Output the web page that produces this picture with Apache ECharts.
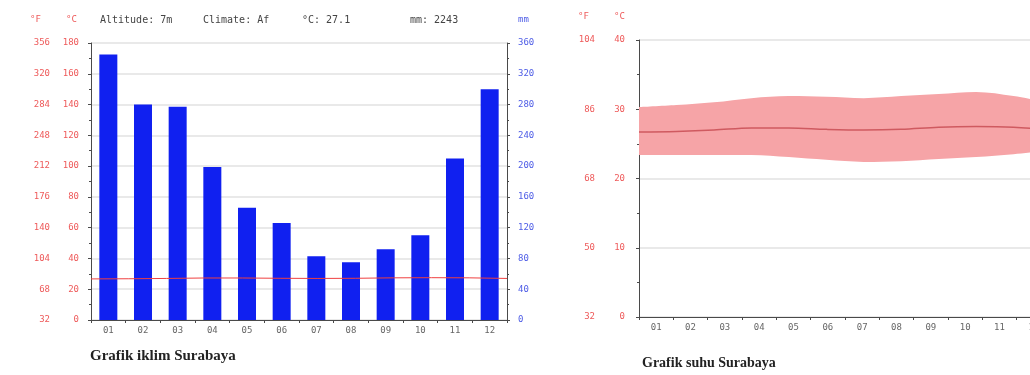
<!DOCTYPE html>
<html>
<head>
<meta charset="utf-8">
<script src="https://cdn.jsdelivr.net/npm/echarts/dist/echarts.min.js"></script>
<style>
html,body{margin:0;padding:0;background:#fff;}
#chart{width:1030px;height:375px;}
</style>
</head>
<body>
<div id="chart"></div>
<script>
// Surabaya climate: monthly precipitation and temperatures
const months = ['01','02','03','04','05','06','07','08','09','10','11','12'];
const precipMm = [345, 280, 277, 199, 146, 126, 83, 75, 92, 110, 210, 300];
const tempMean = [26.7, 26.8, 27.0, 27.3, 27.3, 27.1, 27.0, 27.1, 27.4, 27.5, 27.4, 27.0];
const tempMax  = [30.3, 30.6, 31.0, 31.6, 31.9, 31.8, 31.6, 31.9, 32.2, 32.5, 31.9, 30.9];
const tempMin  = [23.4, 23.4, 23.4, 23.4, 23.1, 22.7, 22.4, 22.5, 22.8, 23.1, 23.5, 24.1];
const altitudeM = 7;
const climateClass = 'Af';
const climateTitle = 'Grafik iklim Surabaya';
const tempTitle = 'Grafik suhu Surabaya';

const annualTemp = (tempMean.reduce((a, b) => a + b, 0) / tempMean.length).toFixed(1);
const annualPrecip = precipMm.reduce((a, b) => a + b, 0);
const tempRange = tempMax.map((v, i) => +(v - tempMin[i]).toFixed(1));

const MONO = 'DejaVu Sans Mono';
const RED = '#ee5a5a';
const BLUE = '#4d5ce6';
const AXIS = '#4a4a4a';
const toF = v => Math.round(v * 1.8 + 32);

const catAxis = (grid) => ({
  type: 'category', gridIndex: grid, data: months, boundaryGap: true,
  axisLine: { lineStyle: { color: AXIS, width: 1 } },
  axisTick: { show: true, length: 3, lineStyle: { color: AXIS } },
  axisLabel: { fontFamily: MONO, fontSize: 9, color: '#666', margin: 6 }
});
const lineAxis = (grid) => ({
  type: 'category', gridIndex: grid, data: months, boundaryGap: false, show: false
});

const option = {
  animation: false,
  backgroundColor: '#ffffff',
  grid: [
    { left: 91, top: 43, width: 416, height: 277, outerBoundsMode: 'none' },
    // the temperature plot runs past the right edge of the page
    { left: 639, top: 40, width: 412, height: 277, outerBoundsMode: 'none' }
  ],
  xAxis: [catAxis(0), lineAxis(0), catAxis(1), lineAxis(1)],
  yAxis: [
    { // °C, climate chart
      type: 'value', gridIndex: 0, min: 0, max: 180, interval: 20, position: 'left',
      axisLine: { show: true, lineStyle: { color: AXIS } },
      axisTick: { show: true, length: 3, lineStyle: { color: AXIS } },
      minorTick: { show: true, splitNumber: 2, length: 2, lineStyle: { color: AXIS } },
      axisLabel: { fontFamily: MONO, fontSize: 9, color: RED, margin: 12 },
      splitLine: { show: true, lineStyle: { color: '#e9e9e9', width: 2 } }
    },
    { // °F, climate chart
      type: 'value', gridIndex: 0, min: 0, max: 180, interval: 20, position: 'left', offset: 29,
      axisLine: { show: false }, axisTick: { show: false }, splitLine: { show: false },
      axisLabel: { fontFamily: MONO, fontSize: 9, color: RED, margin: 12, formatter: toF }
    },
    { // mm, climate chart
      type: 'value', gridIndex: 0, min: 0, max: 360, interval: 40, position: 'right',
      axisLine: { show: true, lineStyle: { color: AXIS } },
      axisTick: { show: true, length: 3, lineStyle: { color: AXIS } },
      minorTick: { show: true, splitNumber: 2, length: 2, lineStyle: { color: AXIS } },
      axisLabel: { fontFamily: MONO, fontSize: 9, color: BLUE, margin: 11 },
      splitLine: { show: false }
    },
    { // °C, temperature chart
      type: 'value', gridIndex: 1, min: 0, max: 40, interval: 10, position: 'left',
      axisLine: { show: true, lineStyle: { color: AXIS } },
      axisTick: { show: true, length: 3, lineStyle: { color: AXIS } },
      minorTick: { show: true, splitNumber: 2, length: 2, lineStyle: { color: AXIS } },
      axisLabel: { fontFamily: MONO, fontSize: 9, color: RED, margin: 14 },
      splitLine: { show: true, lineStyle: { color: '#e9e9e9', width: 2 } }
    },
    { // °F, temperature chart
      type: 'value', gridIndex: 1, min: 0, max: 40, interval: 10, position: 'left', offset: 30,
      axisLine: { show: false }, axisTick: { show: false }, splitLine: { show: false },
      axisLabel: { fontFamily: MONO, fontSize: 9, color: RED, margin: 14, formatter: toF }
    }
  ],
  series: [
    {
      name: 'mm', type: 'bar', xAxisIndex: 0, yAxisIndex: 2, data: precipMm,
      barWidth: 18, itemStyle: { color: '#1020f0' }
    },
    {
      name: '°C', type: 'line', xAxisIndex: 1, yAxisIndex: 0, data: tempMean,
      symbol: 'none', lineStyle: { color: '#f04040', width: 1 }
    },
    {
      name: 'min', type: 'line', xAxisIndex: 3, yAxisIndex: 3, data: tempMin,
      stack: 'band', symbol: 'none', smooth: 0.35, lineStyle: { opacity: 0 }
    },
    {
      name: 'range', type: 'line', xAxisIndex: 3, yAxisIndex: 3, data: tempRange,
      stack: 'band', symbol: 'none', smooth: 0.35, lineStyle: { opacity: 0 },
      areaStyle: { color: '#f6a4a7', opacity: 1 }
    },
    {
      name: 'mean', type: 'line', xAxisIndex: 3, yAxisIndex: 3, data: tempMean,
      symbol: 'none', smooth: 0.35, lineStyle: { color: '#cf5a60', width: 1.5 }
    }
  ],
  graphic: [
    { type: 'text', left: 30, top: 15, style: { text: '°F', font: '9px "DejaVu Sans Mono"', fill: RED } },
    { type: 'text', left: 66, top: 15, style: { text: '°C', font: '9px "DejaVu Sans Mono"', fill: RED } },
    { type: 'text', left: 100, top: 15, style: { text: 'Altitude: ' + altitudeM + 'm', font: '10px "DejaVu Sans Mono"', fill: '#444' } },
    { type: 'text', left: 203, top: 15, style: { text: 'Climate: ' + climateClass, font: '10px "DejaVu Sans Mono"', fill: '#444' } },
    { type: 'text', left: 302, top: 15, style: { text: '°C: ' + annualTemp, font: '10px "DejaVu Sans Mono"', fill: '#444' } },
    { type: 'text', left: 410, top: 15, style: { text: 'mm: ' + annualPrecip, font: '10px "DejaVu Sans Mono"', fill: '#444' } },
    { type: 'text', left: 518, top: 15, style: { text: 'mm', font: '9px "DejaVu Sans Mono"', fill: BLUE } },
    { type: 'text', left: 578, top: 12, style: { text: '°F', font: '9px "DejaVu Sans Mono"', fill: RED } },
    { type: 'text', left: 614, top: 12, style: { text: '°C', font: '9px "DejaVu Sans Mono"', fill: RED } },
    { type: 'text', left: 90, top: 349, style: { text: climateTitle, font: 'bold 15px "Liberation Serif"', fill: '#222' } },
    { type: 'text', left: 642, top: 356, style: { text: tempTitle, font: 'bold 14px "Liberation Serif"', fill: '#222' } }
  ]
};

const chart = echarts.init(document.getElementById('chart'), null, { renderer: 'canvas' });
chart.setOption(option);
</script>
</body>
</html>
